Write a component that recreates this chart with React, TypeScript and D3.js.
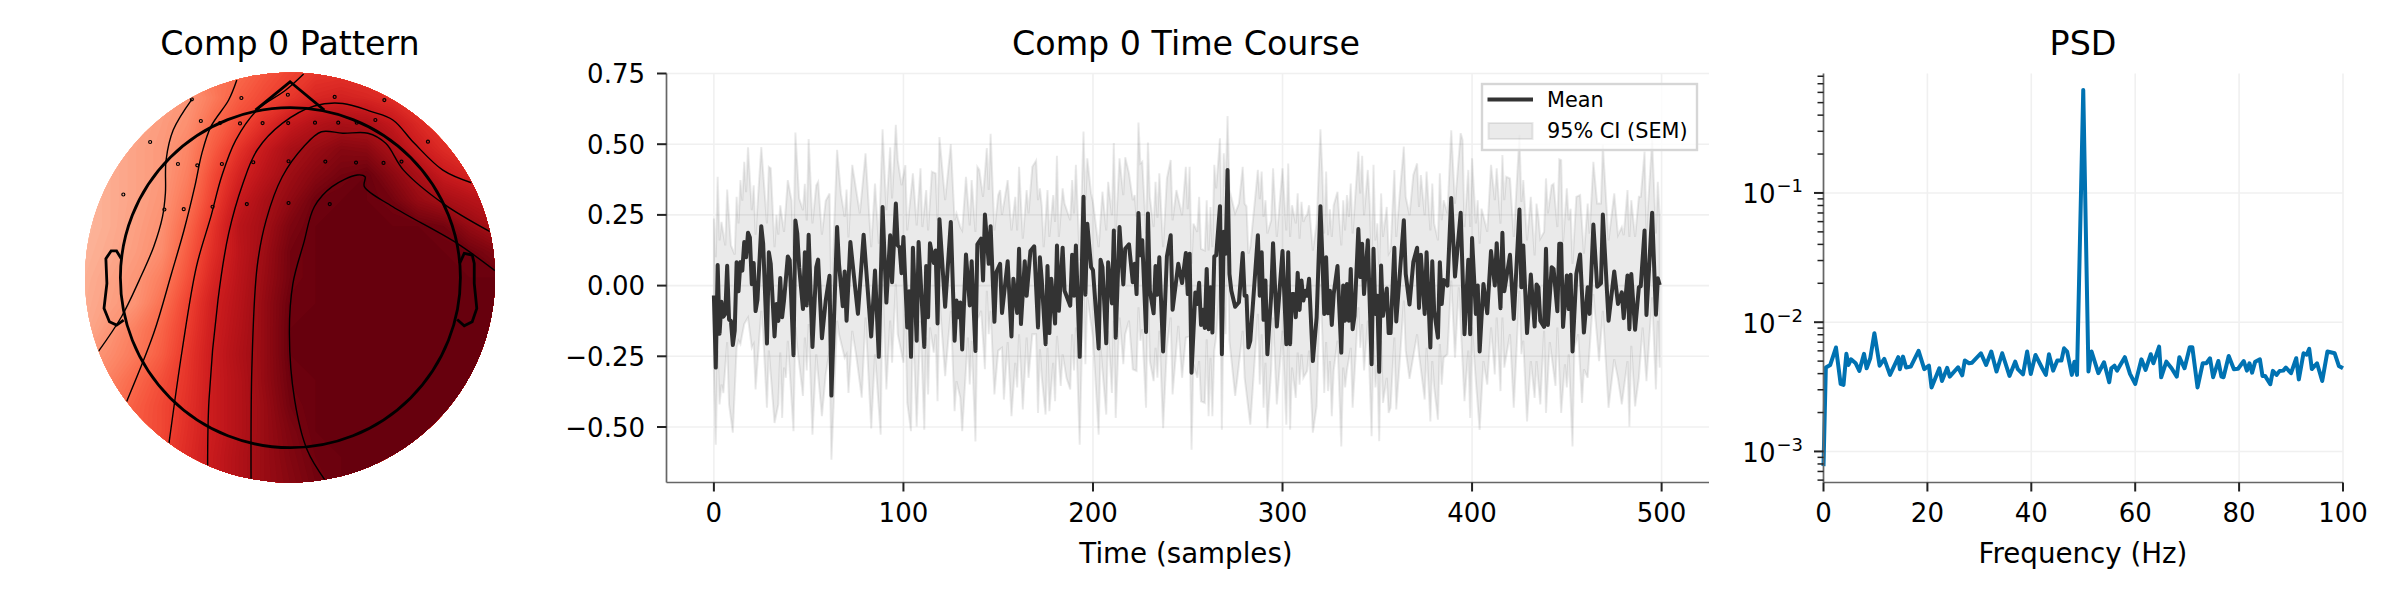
import React, { useRef, useEffect } from 'react';
import * as d3 from 'd3';

type Pair = [number, number];

const FONT = '"DejaVu Sans", sans-serif';

const patternRows: number[][] = [
  [.32,.33,.35,.38,.42,.47,.50,.56,.61,.65,.66,.65,.62,.60,.58,.56,.55],
  [.29,.30,.32,.34,.37,.45,.54,.60,.65,.71,.73,.71,.68,.64,.60,.58,.56],
  [.27,.29,.32,.35,.39,.50,.59,.68,.77,.83,.86,.85,.78,.70,.65,.60,.58],
  [.27,.30,.33,.36,.42,.54,.66,.77,.86,.90,.94,.93,.86,.76,.69,.64,.60],
  [.27,.30,.33,.36,.44,.59,.72,.81,.89,.94,.98,1,.93,.86,.77,.72,.69],
  [.27,.30,.33,.37,.47,.62,.77,.86,.92,.99,1,1,.98,.91,.87,.83,.80],
  [.27,.30,.34,.385,.51,.66,.81,.875,.96,1,1,1,1,1,.98,.91,.86],
  [.28,.31,.35,.40,.54,.68,.80,.89,.98,1,1,1,1,1,1,.99,.95],
  [.29,.33,.37,.44,.57,.71,.81,.90,.98,1,1,1,1,1,1,1,1],
  [.30,.34,.38,.48,.61,.74,.82,.91,.995,1,1,1,1,1,1,1,1],
  [.31,.37,.44,.52,.63,.75,.83,.91,1,1,1,1,1,1,1,1,1],
  [.35,.40,.46,.54,.65,.76,.84,.91,1,1,1,1,1,1,1,1,1],
  [.38,.44,.51,.58,.66,.76,.83,.91,.99,1,1,1,1,1,1,1,1],
  [.41,.47,.54,.60,.67,.76,.83,.90,.98,1,1,1,1,1,1,1,1],
  [.45,.50,.55,.60,.68,.76,.83,.90,.96,1,1,1,1,1,1,1,1],
  [.47,.51,.56,.62,.69,.77,.84,.90,.95,.99,1,1,1,1,1,1,1],
  [.48,.52,.57,.63,.70,.77,.84,.90,.94,.98,1,1,1,1,1,1,1],
];

// head coordinates: head circle has radius 1, nose up
const contourLines: Pair[][] = [
  [[-.581,1.046],[-.691,.866],[-.733,.690],[-.737,.495],[-.754,.358],[-.806,.182],[-.891,-.014],[-.996,-.229],[-1.133,-.434]],
  [[-.316,1.159],[-.364,1.042],[-.469,.886],[-.522,.729],[-.564,.534],[-.627,.280],[-.701,.025],[-.806,-.326],[-.966,-.727]],
  [[.078,1.195],[-.027,1.101],[-.196,.983],[-.322,.807],[-.406,.592],[-.469,.358],[-.554,.065],[-.638,-.424],[-.716,-.972]],
  [[1.067,.557],[.899,.631],[.731,.788],[.604,.925],[.478,.974],[.309,1.022],[.141,1.007],[-.048,.905],[-.196,.749],[-.280,.553],[-.364,.260],[-.427,-.131],[-.480,-.717],[-.488,-1.103]],
  [[1.177,.270],[.899,.436],[.667,.631],[.562,.788],[.457,.847],[.309,.847],[.183,.856],[.078,.768],[-.048,.592],[-.143,.338],[-.196,.065],[-.227,-.522],[-.232,-1.187]],
  [[1.206,.041],[.983,.201],[.604,.416],[.436,.534],[.440,.592],[.394,.602],[.246,.534],[.141,.416],[.078,.201],[.015,-.033],[-.006,-.326],[.025,-.717],[.099,-1.011],[.204,-1.187]],
];
const sensors: Pair[] = [
  [-.581,1.046],[-.289,1.054],[-.015,1.073],[.261,1.060],[.554,1.042],
  [-.528,.919],[-.415,.907],[-.297,.905],[-.164,.907],[-.013,.907],[.145,.909],[.282,.909],[.391,.909],[.501,.925],
  [-.827,.796],[.811,.798],
  [-.663,.667],[-.549,.659],[-.404,.667],[-.219,.677],[-.011,.683],[.206,.681],[.387,.675],[.549,.673],[.655,.681],
  [-.985,.488],
  [-.743,.400],[-.629,.402],[-.459,.416],[-.257,.432],[-.011,.438],[.232,.432],
];
const noseLine: Pair[] = [[-.206,.983],[-.002,1.149],[.200,.983]];
const leftEar: Pair[] = [[-.998,.112],[-1.025,.157],[-1.057,.157],[-1.088,.112],[-1.082,-.033],[-1.099,-.180],[-1.067,-.258],[-1.025,-.278],[-.983,-.249]];
const rightEar: Pair[] = [[.998,.084],[1.025,.143],[1.072,.133],[1.084,.084],[1.084,-.033],[1.099,-.180],[1.072,-.258],[1.025,-.282],[.983,-.245]];

const timeTicks = [0, 100, 200, 300, 400, 500];
const ampTicks = [-0.5, -0.25, 0, 0.25, 0.5, 0.75];
const freqTicks = [0, 20, 40, 60, 80, 100];
const psdTicks = [1e-3, 1e-2, 1e-1];

// [sample, value] turning points of the traces
const meanSeries: Pair[] = [
  [0,-.035],[1,-.29],[2,.073],[3,-.17],[4,-.057],[5,-.11],[6,-.10],[7,.07],[8,-.12],[9,-.125],[10,-.21],[11,-.16],[12,.083],[13,-.02],[14,.083],[15,.053],[16,.154],[17,.10],[18,.187],[19,.17],[20,.005],[21,.08],[22,-.09],[23,-.05],[25,.21],[26,.148],[28,-.205],[29,.118],[30,.077],[32,-.18],[33,-.065],[34,-.125],[35,.027],[36,-.112],[37,-.053],[39,.103],[40,.09],[42,-.246],[43,.23],[44,.184],[45,.065],[47,-.083],[48,.118],[49,-.07],[50,.18],[52,-.217],[54,.065],[55,.092],[57,-.186],[59,-.053],[61,.035],[62,-.389],[65,.207],[66,.077],[68,-.073],[69,.05],[70,-.124],[72,.154],[73,.09],[76,-.10],[79,.18],[83,-.18],
  [85,.053],[87,-.252],[89,.278],[91,-.06],[93,.178],[94,.012],[96,.29],[97,.142],[98,.135],[99,.044],[100,.172],[102,-.148],[103,-.02],[104,-.252],[105,.134],[107,-.195],[108,.154],[111,-.217],[112,.069],[113,-.112],[114,.15],[116,.08],[117,.124],[118,-.134],[119,.235],[122,-.075],[125,.225],[127,-.195],[128,-.053],[129,-.112],[130,-.06],[131,-.226],[133,.11],[135,-.07],[136,.086],[138,-.231],[139,.146],[141,.166],[142,.018],[143,.251],[145,.077],[146,.21],[148,-.128],[149,.047],[151,.077],[152,-.097],[155,.086],[157,-.18],[158,.024],[160,-.097],[161,.13],[162,-.136],[164,.086],[165,-.036],[167,.122],[169,.139],
  [171,-.148],[172,.10],[173,.018],[175,-.207],[176,.069],[177,-.168],[178,.024],[180,-.134],[181,.142],[182,-.089],[184,.134],[185,-.018],[188,-.071],[189,.109],[190,-.036],[191,.142],[193,-.252],[195,.314],[196,-.032],[197,.219],[199,.065],[200,.055],[203,-.222],[204,.091],[205,.065],[207,-.204],[208,.083],[210,-.063],[211,.195],[212,-.184],[214,.207],[216,.004],[217,.13],[219,.146],[221,.012],[222,.077],[223,-.03],[224,.257],[225,.107],[226,.16],[228,-.164],[229,.255],[230,-.018],[232,-.098],[233,.069],[234,-.032],[235,.10],[237,-.233],[239,.103],[241,.178],[242,-.085],[245,.077],[247,.009],[249,.115],[250,-.03],[251,.113],[252,-.308],[254,-.024],
  [255,-.065],[256,.01],[257,-.139],[258,-.085],[259,-.15],[260,.059],[261,-.154],[262,-.006],[263,-.166],[264,.103],[265,.107],[267,.281],[268,-.243],[269,.19],[270,.113],[271,.409],[272,.041],[273,-.018],[275,-.075],[277,-.059],[279,.115],[280,-.036],[281,-.036],[282,-.219],[283,-.195],[287,.178],[288,-.036],[289,.118],[290,-.121],[291,.018],[292,-.243],[294,-.036],[295,.15],[297,-.145],[300,.122],[302,-.207],[303,.118],[304,-.207],[305,-.03],[306,-.03],[307,-.112],[308,.045],[309,-.086],[310,.018],[311,-.053],[312,-.018],[313,-.036],[314,.024],[316,-.267],[318,-.112],[320,.281],[321,.10],[322,-.10],[323,.10],[324,-.098],[325,-.018],[326,-.139],[327,-.03],[329,.069],[331,-.237],[332,0],[333,-.124],[334,.006],[335,-.124],[336,.059],[337,-.154],[338,-.107],
  [340,.20],[341,.03],[342,.148],[343,-.03],[345,.16],[347,-.278],[348,.13],[349,-.10],[350,-.036],[351,-.305],[352,.071],[353,-.107],[355,-.01],[356,-.168],[357,-.168],[359,.134],[360,-.127],[362,.053],[364,.231],[365,.041],[367,-.067],[369,.083],[371,.134],[372,-.079],[373,.109],[375,-.10],[376,.118],[378,-.219],[379,.086],[380,-.089],[382,-.184],[383,.083],[384,-.065],[385,.02],[387,0],[389,.31],[391,.032],[394,.258],[396,-.172],[398,.091],[399,-.172],[400,.168],[402,-.10],[403,0],[404,-.233],[406,.006],[408,-.098],[410,.122],[412,0],[413,.15],[415,-.08],[416,.187],[417,-.02],[420,.109],[422,-.118],
  [425,.269],[426,-.006],[427,.142],[429,-.168],[431,.039],[433,-.145],[434,.004],[435,-.006],[436,-.124],[438,-.146],[439,.13],[440,-.139],[442,.065],[443,.059],[445,-.091],[446,.148],[447,.148],[448,-.146],[450,.036],[451,-.083],[452,.038],[453,-.233],[455,.041],[457,.11],[459,-.166],[461,-.006],[462,-.10],[464,.216],[466,-.004],[468,.008],[469,.251],[472,-.124],[475,.05],[477,-.065],[479,-.024],[480,-.115],[482,.036],[483,-.154],[484,.041],[486,-.156],[488,-.006],[489,-.002],[491,.195],[492,-.104],[495,.258],[497,-.103],[498,.026],[499,.002],
];
const ciUpper: Pair[] = [
  [0,.237],[1,.10],[2,.385],[3,.16],[4,.225],[6,.142],[7,.34],[9,.142],[11,.11],[12,.314],[13,.22],[14,.373],[15,.30],[16,.438],[17,.33],[18,.489],[20,.267],[21,.355],[22,.18],[25,.49],[28,.22],[29,.42],[30,.415],[32,.136],[33,.25],[34,.18],[35,.284],[37,.19],[39,.373],[41,.30],[42,.107],[43,.541],[45,.308],[47,.267],[48,.36],[49,.23],[50,.518],[52,.22],[54,.355],[55,.367],[57,.18],[59,.30],[61,.326],[62,-.04],[65,.48],[67,.326],[69,.243],[70,.34],[71,.17],[73,.427],[77,.255],[80,.468],[83,.136],[85,.361],[87,.148],[89,.553],[91,.267],[93,.489],[94,.308],[96,.569],[97,.444],[99,.355],[101,.426],[102,.195],[103,.265],[105,.397],[107,.213],[109,.415],[110,.207],[112,.338],[113,.195],[115,.403],[117,.397],[118,.23],[119,.525],[122,.302],[125,.50],[127,.231],[128,.255],[130,.207],[131,.195],[133,.385],[135,.213],[136,.373],[138,.19],[139,.42],[140,.41],[142,.314],[144,.486],[145,.338],[146,.537],[148,.195],[150,.32],[151,.338],[152,.25],[155,.373],[157,.195],[159,.314],[160,.195],[161,.42],[163,.166],[165,.338],[166,.255],[168,.42],[170,.442],[171,.302],[172,.344],[173,.28],[174,.136],[176,.338],[177,.172],[179,.32],[180,.225],[181,.459],[182,.172],[184,.344],[185,.29],[188,.231],[189,.373],[190,.255],[191,.427],[193,.089],[195,.545],[196,.302],[197,.45],[199,.326],[200,.295],[203,.136],[205,.332],[207,.195],[208,.367],[210,.249],[211,.504],[212,.19],[214,.45],[216,.32],[217,.454],[219,.397],[221,.302],[222,.32],[223,.243],[224,.577],[225,.432],[226,.438],[228,.184],[229,.506],[230,.314],[232,.207],[233,.367],[234,.24],[235,.397],[237,.136],[239,.379],[241,.444],[242,.231],[244,.338],[245,.308],[247,.249],[249,.42],[250,.27],[251,.42],[252,.077],[253,.219],[255,.19],[256,.314],[257,.13],[259,.124],[260,.302],[261,.124],[262,.278],[263,.136],[264,.427],[265,.344],[267,.521],[268,.178],[269,.468],[270,.35],[271,.60],[272,.339],[275,.256],[277,.29],[279,.42],[280,.29],[281,.28],[282,.113],[283,.136],[287,.409],[288,.306],[289,.403],[290,.243],[291,.302],[292,.184],[294,.231],[295,.415],[297,.172],[300,.415],[302,.195],[303,.432],[304,.172],[305,.284],[307,.22],[308,.326],[309,.166],[310,.296],[311,.225],[312,.243],[313,.25],[314,.284],[316,.124],[318,.22],[320,.553],[321,.403],[322,.184],[323,.403],[324,.178],[325,.27],[326,.172],[327,.284],[329,.332],[331,.142],[332,.302],[333,.195],[334,.32],[335,.243],[336,.361],[337,.184],[340,.474],[341,.326],[342,.459],[343,.249],[345,.409],[346,.29],[347,.09],[348,.427],[349,.16],[350,.22],[351,.065],[352,.326],[353,.172],[355,.278],[356,.113],[357,.125],[359,.409],[360,.172],[362,.338],[364,.492],[365,.314],[367,.249],[369,.391],[371,.432],[372,.278],[373,.391],[375,.249],[376,.403],[378,.195],[379,.361],[380,.22],[382,.16],[383,.397],[384,.231],[385,.302],[387,.255],[389,.549],[391,.29],[394,.539],[395,.515],[396,.207],[398,.409],[399,.207],[400,.45],[402,.22],[403,.302],[404,.148],[405,.272],[407,.219],[408,.19],[410,.427],[412,.302],[413,.415],[415,.219],[416,.462],[417,.302],[418,.385],[420,.379],[422,.172],[425,.533],[426,.296],[427,.373],[429,.16],[431,.314],[433,.107],[434,.29],[435,.24],[436,.166],[438,.19],[439,.379],[440,.255],[442,.355],[443,.36],[445,.207],[446,.447],[447,.444],[448,.154],[450,.344],[451,.231],[452,.272],[453,.077],[455,.314],[457,.32],[459,.113],[461,.29],[462,.184],[464,.438],[466,.29],[468,.29],[469,.498],[472,.16],[475,.326],[477,.178],[479,.207],[480,.178],[482,.338],[483,.172],[484,.302],[486,.172],[488,.314],[489,.314],[491,.474],[492,.195],[495,.515],[497,.184],[498,.367],[499,.243],
];
const ciLower: Pair[] = [
  [0,-.30],[1,-.563],[2,-.23],[3,-.42],[4,-.35],[5,-.38],[7,-.20],[8,-.42],[10,-.52],[12,-.22],[13,-.195],[14,-.207],[16,-.136],[18,-.113],[20,-.22],[21,-.207],[22,-.367],[25,-.089],[26,-.172],[28,-.432],[29,-.23],[32,-.486],[34,-.42],[35,-.237],[36,-.468],[37,-.29],[38,-.326],[39,-.195],[42,-.515],[43,-.148],[44,-.22],[47,-.39],[48,-.184],[49,-.30],[50,-.136],[52,-.527],[54,-.243],[57,-.462],[59,-.314],[61,-.23],[62,-.616],[65,-.124],[66,-.172],[69,-.255],[70,-.243],[71,-.38],[73,-.16],[75,-.243],[78,-.396],[80,-.113],[83,-.505],[85,-.243],[88,-.527],[89,.006],[91,-.367],[93,-.124],[94,-.273],[96,.006],[97,-.172],[100,-.273],[101,-.10],[102,-.414],[104,-.515],[105,-.124],[107,-.498],[109,-.124],[111,-.51],[112,-.184],[113,-.385],[114,-.148],[116,-.237],[117,-.172],[118,-.409],[119,-.047],[122,-.32],[125,-.089],[127,-.444],[128,-.338],[130,-.397],[131,-.515],[134,-.184],[135,-.35],[136,-.195],[138,-.551],[139,-.124],[141,-.089],[143,-.296],[144,-.018],[145,-.172],[146,-.089],[148,-.385],[150,-.23],[152,-.22],[153,-.403],[155,-.2],[157,-.462],[159,-.273],[160,-.36],[161,-.172],[163,-.438],[165,-.184],[166,-.326],[168,-.172],[170,-.172],[171,-.45],[172,-.225],[173,-.326],[175,-.456],[176,-.22],[177,-.444],[179,-.273],[180,-.409],[181,-.178],[183,-.355],[184,-.243],[186,-.326],[188,-.367],[189,-.172],[190,-.30],[191,-.148],[193,-.563],[195,.03],[196,-.278],[197,-.041],[200,-.184],[203,-.527],[204,-.22],[207,-.456],[208,-.16],[210,-.38],[211,-.124],[212,-.468],[214,-.113],[216,-.278],[217,-.172],[219,-.124],[221,-.296],[223,-.302],[224,-.077],[225,-.195],[226,-.154],[228,-.432],[229,-.006],[230,-.267],[232,-.338],[233,-.22],[234,-.326],[235,-.16],[237,-.504],[239,-.22],[241,-.113],[242,-.385],[245,-.142],[247,-.326],[249,-.184],[251,-.18],[252,-.58],[253,-.278],[255,-.326],[256,-.267],[257,-.409],[259,-.415],[260,-.19],[261,-.462],[262,-.255],[263,-.462],[264,-.23],[265,-.18],[267,.006],[268,-.51],[269,-.077],[270,-.172],[271,.195],[272,-.195],[275,-.39],[276,-.338],[279,-.16],[280,-.326],[283,-.492],[287,-.10],[288,-.35],[289,-.172],[290,-.432],[291,-.273],[292,-.504],[294,-.30],[295,-.113],[297,-.42],[300,-.16],[302,-.492],[303,-.172],[304,-.51],[305,-.29],[307,-.397],[308,-.237],[309,-.35],[310,-.243],[311,-.326],[313,-.302],[314,-.23],[316,-.52],[318,-.427],[320,.006],[321,-.172],[322,-.38],[323,-.2],[324,-.373],[325,-.267],[326,-.462],[327,-.30],[329,-.195],[331,-.569],[332,-.29],[333,-.36],[334,-.30],[336,-.22],[337,-.432],[340,-.077],[341,-.22],[342,-.136],[343,-.30],[345,-.124],[347,-.533],[348,-.195],[349,-.36],[350,-.28],[351,-.55],[352,-.195],[353,-.415],[355,-.326],[356,-.45],[357,-.432],[359,-.184],[360,-.438],[362,-.255],[364,-.053],[365,-.23],[367,-.33],[371,-.172],[372,-.243],[375,-.403],[376,-.22],[378,-.48],[379,-.267],[380,-.36],[382,-.474],[383,-.207],[384,-.35],[385,-.255],[387,-.243],[389,.018],[391,-.255],[393,-.006],[396,-.409],[398,-.23],[399,-.468],[400,-.148],[402,-.338],[404,-.51],[406,-.267],[408,-.35],[410,-.148],[412,-.314],[413,-.113],[415,-.373],[416,-.113],[417,-.29],[420,-.172],[422,-.432],[425,-.018],[426,-.243],[427,-.195],[429,-.48],[431,-.267],[433,-.397],[434,-.267],[436,-.42],[438,-.16],[439,-.45],[441,-.2],[444,-.355],[445,-.148],[447,-.45],[449,-.278],[450,-.36],[451,-.243],[453,-.569],[454,-.22],[456,-.172],[458,-.415],[459,-.296],[461,-.326],[464,-.03],[467,-.267],[469,-.089],[472,-.432],[475,-.26],[477,-.33],[479,-.42],[482,-.267],[483,-.498],[484,-.213],[486,-.427],[488,-.326],[490,-.148],[492,-.338],[495,-.041],[497,-.367],[498,-.124],[499,-.29],
];
// [Hz, power]
const psdSeries: Pair[] = [
  [0,.00077],[.45,.00446],[1.3,.00467],[2.4,.00637],[3.3,.00333],[3.85,.00327],[4.4,.00569],[4.8,.00467],[5.3,.00516],[6.2,.00481],[6.9,.0042],[7.8,.00569],[8.3,.0044],[9,.00526],[9.8,.00822],[10.8,.00461],[11.7,.0052],[12.8,.00391],[14.4,.00536],[14.7,.00433],[15.3,.00542],[15.9,.00446],[16.8,.00453],[18.3,.006],[19.4,.00433],[20.3,.00461],[20.8,.00312],[22.3,.0044],[22.8,.00351],[23.8,.00443],[24.3,.00379],[25.9,.00448],[26.7,.00388],[27.2,.00505],[28,.00481],[28.6,.00486],[30.3,.00575],[31.3,.00467],[32.3,.00593],[33.3,.00415],[34.4,.00575],[35.8,.00384],[36.9,.00495],[37.4,.00433],[38.4,.00395],[39.2,.00593],[39.9,.00398],[40.8,.00558],[42.1,.0044],[42.8,.00391],[43.4,.00565],[44.2,.00422],[45,.00505],[45.8,.00505],[46.3,.00628],[46.9,.00593],[47.8,.00391],[48.3,.00495],[48.8,.00391],
  [50,.627],[51,.00415],[51.6,.00593],[52.9,.00403],[54,.0049],[55,.00343],[55.4,.0044],[56,.00461],[56.5,.00422],[58,.00536],[59,.00398],[60,.00333],[61.2,.00516],[62,.00427],[63,.00565],[63.5,.00481],[64.6,.00647],[65,.00375],[66,.00495],[67,.0044],[68,.00379],[68.5,.00536],[69.5,.0044],[70.5,.0064],[71,.0064],[72,.00313],[73,.00481],[73.7,.00481],[74.4,.00526],[75,.00375],[76,.00501],[76.6,.00379],[77,.00375],[78,.00548],[79,.00433],[79.8,.00436],[80.9,.00501],[81.5,.00422],[82,.00481],[82.5,.00407],[83.1,.00495],[84,.00516],[84.5,.00384],[85,.00384],[86,.00331],[86.5,.0042],[87.2,.00391],[87.8,.0042],[88.5,.00422],[89,.00446],[90,.00403],[91,.00526],[91.5,.00361],[92.4,.00575],[93,.0056],[93.5,.00621],[94,.00434],[95,.00481],[96,.00351],[97,.00593],[98.4,.00575],[99.2,.00459],[100,.0044],
];

const App: React.FC = () => {
  const ref = useRef<SVGSVGElement | null>(null);

  useEffect(() => {
    if (!ref.current) return;
    const svg = d3.select(ref.current);
    svg.selectAll('*').remove();
    svg.attr('font-family', FONT);

    const title = (x: number, text: string) =>
      svg.append('text').attr('x', x).attr('y', 55).attr('text-anchor', 'middle')
        .attr('font-size', 33.3).attr('fill', '#000').text(text);
    const hline = (g: any, x1: number, x2: number, y: number, color: string, w: number) =>
      g.append('line').attr('x1', x1).attr('x2', x2).attr('y1', y).attr('y2', y).attr('stroke', color).attr('stroke-width', w);
    const vline = (g: any, x: number, y1: number, y2: number, color: string, w: number) =>
      g.append('line').attr('x1', x).attr('x2', x).attr('y1', y1).attr('y2', y2).attr('stroke', color).attr('stroke-width', w);

    // ---- Pattern ----
    title(290, 'Comp 0 Pattern');
    const defs = svg.append('defs');
    defs.append('clipPath').attr('id', 'scalp').append('circle').attr('cx', 290).attr('cy', 277.5).attr('r', 205);
    const topo = svg.append('g').attr('clip-path', 'url(#scalp)');
    const gridSize = patternRows.length;
    const gx = d3.scaleLinear().domain([0.5, gridSize - 0.5]).range([85, 495]);
    const gy = d3.scaleLinear().domain([0.5, gridSize - 0.5]).range([72, 483]);
    const toPixels = d3.geoPath(d3.geoTransform({
      point(x: number, y: number) { (this as any).stream.point(gx(x), gy(y)); },
    }));
    const levels = d3.range(0.2, 1.0001, 0.01);
    const field = patternRows.flat();
    topo.selectAll('path.band')
      .data(d3.contours().size([gridSize, gridSize]).thresholds(levels)(field))
      .join('path')
      .attr('class', 'band')
      .attr('d', (d: any) => toPixels(d))
      .attr('fill', (d: any) => d3.interpolateReds(d.value));

    const hx = d3.scaleLinear().domain([-1, 1]).range([290.4 - 169.6, 290.4 + 169.6]);
    const hy = d3.scaleLinear().domain([-1, 1]).range([277.7 + 170.5, 277.7 - 170.5]);
    const headLine = d3.line<Pair>().x((d) => hx(d[0])).y((d) => hy(d[1]));
    topo.selectAll('path.iso').data(contourLines).join('path')
      .attr('class', 'iso').attr('fill', 'none').attr('stroke', '#000').attr('stroke-width', 1.4)
      .attr('d', (d) => d3.line<Pair>().x((p) => hx(p[0])).y((p) => hy(p[1])).curve(d3.curveCatmullRom)(d));
    topo.selectAll('circle.sensor').data(sensors).join('circle')
      .attr('class', 'sensor').attr('cx', (d) => hx(d[0])).attr('cy', (d) => hy(d[1])).attr('r', 1.5)
      .attr('fill', 'none').attr('stroke', '#000').attr('stroke-width', 1.2);
    svg.append('circle').attr('cx', hx(0)).attr('cy', hy(0)).attr('r', 170).attr('fill', 'none').attr('stroke', '#000').attr('stroke-width', 2.8);
    [noseLine, leftEar, rightEar].forEach((part) => {
      svg.append('path').attr('d', headLine(part)).attr('fill', 'none').attr('stroke', '#000').attr('stroke-width', 2.8);
    });

    // ---- Time course ----
    title(1186, 'Comp 0 Time Course');
    const x = d3.scaleLinear().domain([-25, 525]).range([666.5, 1709]);
    const y = d3.scaleLinear().domain([-0.5, 0.75]).range([427, 73.5]);
    const bottom = 482.5;
    const tc = svg.append('g');
    ampTicks.forEach((t) => hline(tc, 666.5, 1709, y(t), '#f0f0f0', 1.6));
    timeTicks.forEach((t) => vline(tc, x(t), 73.5, bottom, '#f0f0f0', 1.6));

    const tcLine = d3.line<Pair>().x((d) => x(d[0])).y((d) => y(d[1]));
    tc.append('path')
      .attr('d', tcLine([...ciUpper, ...[...ciLower].reverse()]) + 'Z')
      .attr('fill', '#333').attr('fill-opacity', 0.1)
      .attr('stroke', '#333').attr('stroke-opacity', 0.1).attr('stroke-width', 2);
    tc.append('path').attr('d', tcLine(meanSeries)).attr('fill', 'none')
      .attr('stroke', '#333').attr('stroke-width', 4).attr('stroke-linejoin', 'round');

    vline(tc, 666.5, 73.5, bottom, '#666', 1.7);
    hline(tc, 666.5, 1709, bottom, '#666', 1.7);
    timeTicks.forEach((t) => {
      vline(tc, x(t), bottom, bottom + 9, '#222', 2);
      tc.append('text').attr('x', x(t)).attr('y', 522).attr('text-anchor', 'middle').attr('font-size', 26).text(t);
    });
    ampTicks.forEach((t) => {
      hline(tc, 657, 666.5, y(t), '#222', 2);
      tc.append('text').attr('x', 645).attr('y', y(t) + 9.5).attr('text-anchor', 'end').attr('font-size', 26)
        .text(d3.format('.2f')(t).replace('-', '\u2212'));
    });
    tc.append('text').attr('x', 1186).attr('y', 563).attr('text-anchor', 'middle').attr('font-size', 27.7).text('Time (samples)');

    // legend
    const lg = svg.append('g');
    lg.append('rect').attr('x', 1482).attr('y', 84).attr('width', 215).attr('height', 66)
      .attr('fill', '#fff').attr('fill-opacity', 0.8).attr('stroke', '#d6d6d6').attr('stroke-width', 2.4);
    hline(lg, 1487.5, 1533, 99.5, '#333', 4);
    lg.append('rect').attr('x', 1488.5).attr('y', 123).attr('width', 44).attr('height', 16)
      .attr('fill', '#333').attr('fill-opacity', 0.1).attr('stroke', '#333').attr('stroke-opacity', 0.1).attr('stroke-width', 2);
    lg.append('text').attr('x', 1547).attr('y', 106.5).attr('font-size', 20.8).text('Mean');
    lg.append('text').attr('x', 1547).attr('y', 137.5).attr('font-size', 20.8).text('95% CI (SEM)');

    // ---- PSD ----
    title(2083, 'PSD');
    const fx = d3.scaleLinear().domain([0, 100]).range([1823.5, 2343]);
    const py = d3.scaleLog().domain([0.000575, 0.84]).range([bottom, 73.5]);
    const ps = svg.append('g');
    psdTicks.forEach((t) => hline(ps, 1823.5, 2343, py(t), '#f0f0f0', 1.6));
    freqTicks.forEach((t) => vline(ps, fx(t), 73.5, bottom, '#f0f0f0', 1.6));
    ps.append('path')
      .attr('d', d3.line<Pair>().x((d) => fx(d[0])).y((d) => py(d[1]))(psdSeries))
      .attr('fill', 'none').attr('stroke', '#0072b2').attr('stroke-width', 4).attr('stroke-linejoin', 'round');
    vline(ps, 1823.5, 73.5, bottom, '#666', 1.7);
    hline(ps, 1823.5, 2343, bottom, '#666', 1.7);
    freqTicks.forEach((t) => {
      vline(ps, fx(t), bottom, bottom + 9, '#222', 2);
      ps.append('text').attr('x', fx(t)).attr('y', 522).attr('text-anchor', 'middle').attr('font-size', 26).text(t);
    });
    py.ticks().forEach((t) => {
      const major = psdTicks.includes(t);
      hline(ps, 1823.5 - (major ? 9.5 : 6), 1823.5, py(t), '#222', major ? 2 : 1.5);
    });
    psdTicks.forEach((t) => {
      const label = ps.append('text').attr('x', 1803).attr('y', py(t) + 10.5).attr('text-anchor', 'end').attr('font-size', 26);
      label.append('tspan').text('10');
      label.append('tspan').attr('dy', -11).attr('dx', 1).attr('font-size', 18).text('\u2212' + Math.round(-Math.log10(t)));
    });
    ps.append('text').attr('x', 2083).attr('y', 563).attr('text-anchor', 'middle').attr('font-size', 27.7).text('Frequency (Hz)');
  }, []);

  return (
    <svg ref={ref} width={2400} height={600} style={{ position: 'absolute', left: 0, top: 0, background: '#fff' }} />
  );
};

export default App;
